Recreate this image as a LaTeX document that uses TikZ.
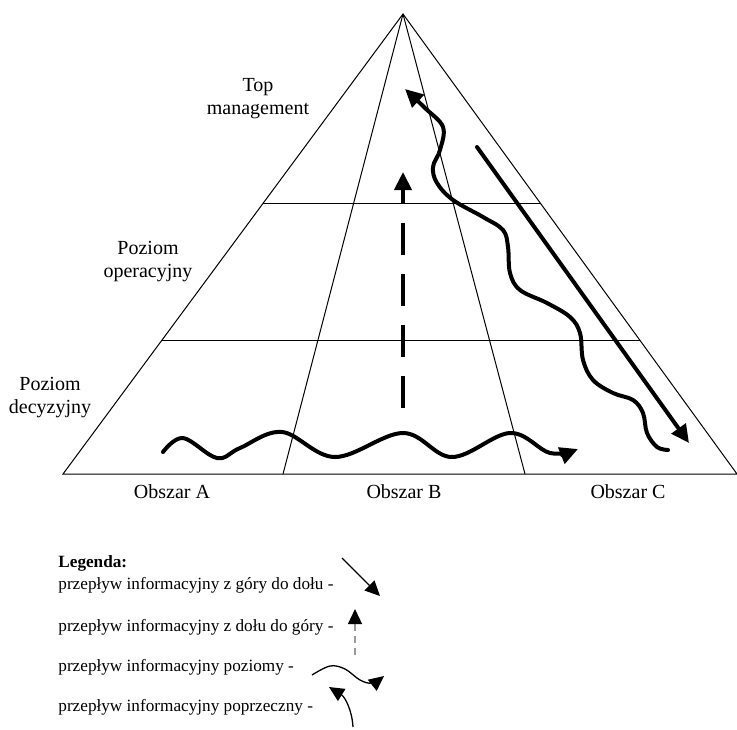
\documentclass[tikz,border=0pt]{standalone}
\usepackage{fontspec}
\setmainfont{Liberation Serif}
\usetikzlibrary{arrows.meta, calc}

\begin{document}
\begin{tikzpicture}[x=0.5pt,y=-0.5pt,
  lbl/.style={align=center,font=\fontsize{10}{11.5}\selectfont},
  legtxt/.style={anchor=west,inner sep=0pt,font=\fontsize{8.6}{10}\selectfont},
  flow/.style={line width=2pt,line cap=round,-{Triangle[length=9pt,width=8.5pt]}},
  legflow/.style={line width=0.65pt,-{Triangle[length=7.5pt,width=7pt]}}]
\useasboundingbox (0,0) rectangle (737,729);
% pyramid
\coordinate (apex) at (403,14);
\coordinate (baseL) at (63,474);
\coordinate (baseR) at (737,474);
\coordinate (inL) at (283,474);
\coordinate (inR) at (525,474);
\draw[line width=0.5pt] (baseL) -- (apex) -- (baseR) -- cycle;
\draw[line width=0.5pt] (apex) -- (inL);
\draw[line width=0.5pt] (apex) -- (inR);
\draw[line width=0.5pt] ($(apex)!0.413!(baseL)$) -- ($(apex)!0.413!(baseR)$);
\draw[line width=0.5pt] ($(apex)!0.709!(baseL)$) -- ($(apex)!0.709!(baseR)$);
% levels and areas
\node[lbl] (toplbl) at (258,99) {Top\\management};
\node[lbl] (operlbl) at (148,262) {Poziom\\operacyjny};
\node[lbl] (decylbl) at (50,398) {Poziom\\decyzyjny};
\node[lbl] (obszarA) at (172,492) {Obszar A};
\node[lbl] (obszarB) at (404,492) {Obszar B};
\node[lbl] (obszarC) at (628,492) {Obszar C};
% flows
\coordinate (upS) at (403,408);
\coordinate (upE) at (403,172);
\draw[flow,line cap=butt,dash pattern=on 16pt off 9.5pt] (upS) -- (upE);
\coordinate (downS) at (477,147);
\coordinate (downE) at (689,443);
\draw[flow] (downS) -- (downE);
\draw[flow] plot[smooth,tension=0.6] coordinates {(163,452) (183,438) (217,458) (240,448) (282,432) (335,457) (403,433) (452,457) (510,433) (550,453) (578,449)};
\draw[flow] plot[smooth,tension=0.6] coordinates {(668,450) (657,447) (647,433) (643,413) (633,400) (613,393) (593,380) (583,360) (580,333) (570,317) (547,303) (520,290) (510,273) (508,247) (503,230) (483,217) (453,200) (437,183) (433,167) (440,150) (443,127) (425,108) (405,89)};
% legend
\node[legtxt,font=\fontsize{8.6}{10}\selectfont\bfseries] (legtitle) at (58,563) {Legenda:};
\node[legtxt] (leg1) at (58,585) {przepływ informacyjny z góry do dołu -};
\node[legtxt] (leg2) at (58,627) {przepływ informacyjny z dołu do góry -};
\node[legtxt] (leg3) at (58,667) {przepływ informacyjny poziomy -};
\node[legtxt] (leg4) at (58,707) {przepływ informacyjny poprzeczny -};
\coordinate (l1S) at (342,558);
\coordinate (l1E) at (380,596);
\draw[legflow] (l1S) -- (l1E);
\coordinate (l2S) at (355,655);
\coordinate (l2E) at (355,609);
\draw[legflow,draw=gray!80,dash pattern=on 3.5pt off 2.5pt,-{Triangle[length=7.5pt,width=7pt,color=black]}] (l2S) -- (l2E);
\draw[legflow] plot[smooth,tension=0.6] coordinates {(312,675) (330,666) (345,669) (360,680) (372,683) (384,676)};
\coordinate (l4S) at (353,727);
\coordinate (l4E) at (329,687);
\draw[legflow] (l4S) .. controls (352,710) and (345,697) .. (l4E);
\end{tikzpicture}
\end{document}
